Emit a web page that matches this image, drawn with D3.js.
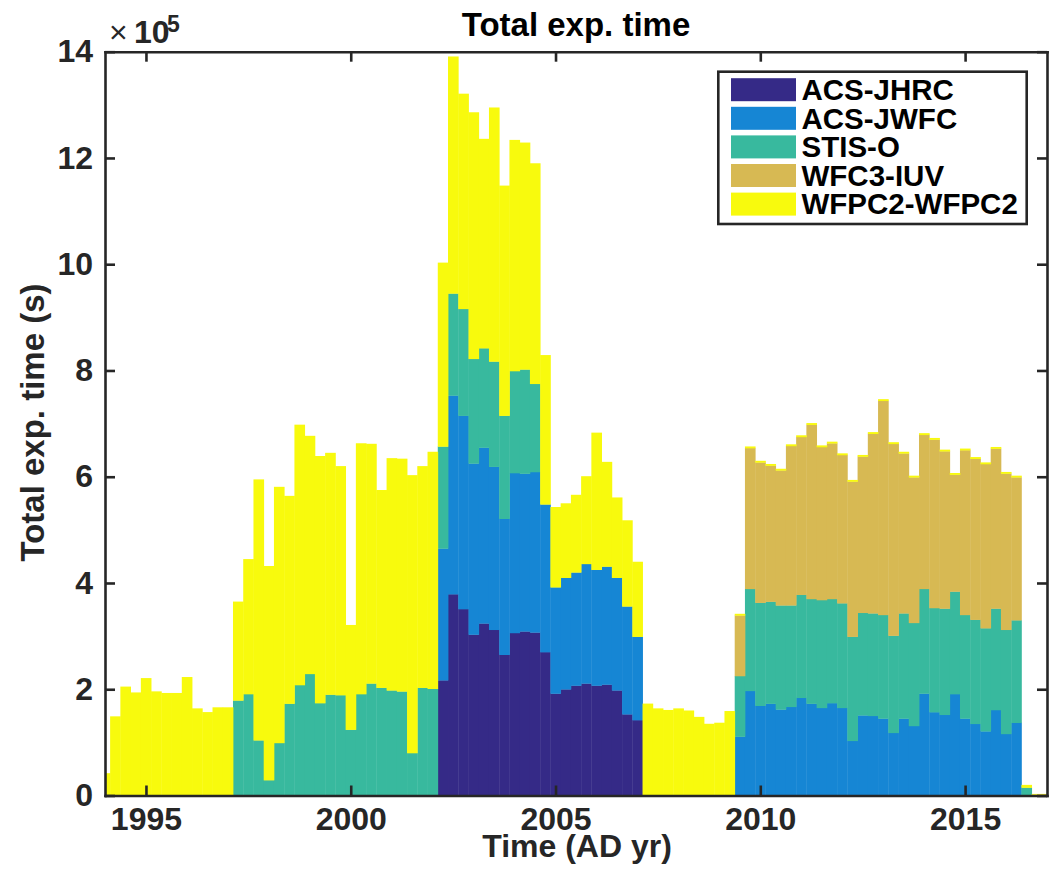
<!doctype html>
<html lang="en-US">

<head>
    <meta charset="UTF-8">
    <title>Total exp. time</title>
    <script src="https://d3js.org/d3.v7.min.js" charset="utf-8"></script>
    <style>
        body { margin: 0; background: #ffffff; }
        #cvas { display: block; font-family: "Liberation Sans", Arial, Helvetica, sans-serif; }
        .axis path, .axis line { stroke: #262626; stroke-width: 2.6; }
        .axis text { fill: #262626; font-size: 32px; font-weight: bold; font-family: "Liberation Sans", Arial, sans-serif; }
    </style>
</head>

<body>
    <svg id="cvas" width="1049" height="874"></svg>
    <script>

        // ---- data (quarterly bins, values in units of 1e5 s) ---- //

        const FIRST_BIN = 1994.0;   // centre of the first quarter bin
        const BIN_WIDTH = 0.25;     // years

        const series_names = ["ACS-JHRC", "ACS-JWFC", "STIS-O", "WFC3-IUV", "WFPC2-WFPC2"];
        const series_colors = ["#352a87", "#1686d4", "#38b99e", "#d7b953", "#f8fa0d"];

        const acs_jhrc = [
            0, 0, 0, 0, 0, 0, 0, 0, 0, 0,
            0, 0, 0, 0, 0, 0, 0, 0, 0, 0,
            0, 0, 0, 0, 0, 0, 0, 0, 0, 0,
            0, 0, 0, 2.17, 3.79, 3.51, 3.03, 3.24, 3.12, 2.65,
            3.06, 3.09, 3.07, 2.70, 1.92, 2.00, 2.07, 2.11, 2.07, 2.09,
            1.98, 1.53, 1.42, 0, 0, 0, 0, 0, 0, 0,
            0, 0, 0, 0, 0, 0, 0, 0, 0, 0,
            0, 0, 0, 0, 0, 0, 0, 0, 0, 0,
            0, 0, 0, 0, 0, 0, 0, 0, 0, 0,
            0, 0, 0
        ];
        const acs_jwfc = [
            0, 0, 0, 0, 0, 0, 0, 0, 0, 0,
            0, 0, 0, 0, 0, 0, 0, 0, 0, 0,
            0, 0, 0, 0, 0, 0, 0, 0, 0, 0,
            0, 0, 0, 2.48, 3.74, 3.64, 3.22, 3.31, 3.07, 2.56,
            3.01, 2.97, 3.02, 2.78, 2.00, 2.10, 2.13, 2.25, 2.18, 2.22,
            2.12, 2.03, 1.57, 0, 0, 0, 0, 0, 0, 0,
            0, 0, 1.11, 1.97, 1.69, 1.73, 1.62, 1.67, 1.84, 1.73,
            1.65, 1.74, 1.65, 1.03, 1.51, 1.50, 1.45, 1.18, 1.45, 1.31,
            1.92, 1.57, 1.52, 1.91, 1.45, 1.35, 1.21, 1.61, 1.16, 1.37,
            0, 0, 0
        ];
        const stis_o = [
            0, 0, 0, 0, 0, 0, 0, 0, 0, 0,
            0, 0, 0, 1.79, 1.91, 1.04, 0.29, 0.99, 1.73, 2.08,
            2.29, 1.74, 1.90, 1.89, 1.24, 1.91, 2.11, 2.03, 1.98, 1.96,
            0.80, 2.03, 2.01, 1.92, 1.92, 2.01, 1.97, 1.87, 1.98, 1.94,
            1.92, 1.96, 1.66, 0, 0, 0, 0, 0, 0, 0,
            0, 0, 0, 0, 0, 0, 0, 0, 0, 0,
            0, 0, 1.14, 1.92, 1.94, 1.92, 1.96, 1.91, 1.94, 1.97,
            2.03, 1.96, 1.97, 1.96, 1.93, 1.93, 1.95, 1.83, 1.98, 1.94,
            1.97, 1.96, 2.00, 1.93, 1.95, 1.96, 1.94, 1.91, 1.96, 1.93,
            0.15, 0, 0
        ];
        const wfc3_iuv = [
            0, 0, 0, 0, 0, 0, 0, 0, 0, 0,
            0, 0, 0, 0, 0, 0, 0, 0, 0, 0,
            0, 0, 0, 0, 0, 0, 0, 0, 0, 0,
            0, 0, 0, 0, 0, 0, 0, 0, 0, 0,
            0, 0, 0, 0, 0, 0, 0, 0, 0, 0,
            0, 0, 0, 0, 0, 0, 0, 0, 0, 0,
            0, 0, 1.14, 2.65, 2.64, 2.56, 2.54, 3.00, 2.97, 3.28,
            2.88, 2.93, 2.79, 2.92, 2.94, 3.38, 4.03, 3.61, 3.01, 2.74,
            2.90, 3.17, 2.96, 2.20, 3.10, 3.03, 3.09, 3.01, 2.94, 2.69,
            0, 0.02, 0.02
        ];
        const wfpc2 = [
            0.42, 1.49, 2.05, 1.94, 2.21, 1.96, 1.93, 1.93, 2.23, 1.64,
            1.57, 1.66, 1.66, 1.86, 2.54, 4.91, 4.03, 4.82, 3.91, 4.90,
            4.48, 4.65, 4.55, 4.31, 1.97, 4.72, 4.51, 3.72, 4.37, 4.38,
            5.23, 4.17, 4.46, 3.46, 4.46, 4.05, 4.64, 3.94, 4.78, 4.33,
            4.35, 4.27, 4.15, 2.81, 1.51, 1.40, 1.46, 1.65, 2.58, 1.97,
            1.51, 1.62, 1.41, 1.73, 1.64, 1.61, 1.64, 1.60, 1.48, 1.35,
            1.37, 1.59, 0.03, 0.03, 0.03, 0.03, 0.03, 0.03, 0.03, 0.03,
            0.03, 0.03, 0.03, 0.03, 0.03, 0.03, 0.03, 0.03, 0.03, 0.03,
            0.03, 0.03, 0.03, 0.03, 0.03, 0.03, 0.03, 0.03, 0.03, 0.03,
            0.05, 0.01, 0.01
        ];

        const x_ticks = [1995, 2000, 2005, 2010, 2015];
        const y_ticks = [0, 2, 4, 6, 8, 10, 12, 14];

        // ---- layout ---- //

        const plot_left = 105;
        const plot_right = 1047;
        const plot_top = 51.7;
        const plot_bottom = 795.5;

        const svg = d3.select("#cvas");

        const x_scale = d3.scaleLinear().domain([1994, 2017]).range([plot_left, plot_right]);
        const y_scale = d3.scaleLinear().domain([0, 14]).range([plot_bottom, plot_top]);

        // build table for the stack
        const all_series = [acs_jhrc, acs_jwfc, stis_o, wfc3_iuv, wfpc2];
        const table = acs_jhrc.map((d, i) => {
            let row = { year: FIRST_BIN + i * BIN_WIDTH };
            series_names.forEach((name, j) => { row[name] = all_series[j][i]; });
            return row;
        });

        const stacked = d3.stack().keys(series_names)(table);

        svg.append("clipPath").attr("id", "plot_clip")
            .append("rect")
            .attr("x", plot_left).attr("y", plot_top)
            .attr("width", plot_right - plot_left).attr("height", plot_bottom - plot_top);

        const bars = svg.append("g").attr("clip-path", "url(#plot_clip)");

        bars.selectAll(".layer").data(stacked)
            .enter().append("g").attr("class", "layer")
            .style("fill", (d, i) => series_colors[i])
            .selectAll("rect").data(d => d.filter(p => p[1] - p[0] > 0))
            .enter().append("rect")
            .attr("x", d => x_scale(d.data.year - BIN_WIDTH / 2))
            .attr("width", d => x_scale(d.data.year + BIN_WIDTH / 2) - x_scale(d.data.year - BIN_WIDTH / 2) + 0.4)
            .attr("y", d => y_scale(d[1]))
            .attr("height", d => y_scale(d[0]) - y_scale(d[1]) + 0.3);

        // ---- axes (box with inward ticks) ---- //

        svg.append("g").attr("class", "axis")
            .attr("transform", `translate(0,${plot_bottom})`)
            .call(d3.axisBottom(x_scale).tickValues(x_ticks).tickFormat(d3.format("d"))
                .tickSizeInner(-10).tickSizeOuter(0).tickPadding(12));

        svg.append("g").attr("class", "axis")
            .attr("transform", `translate(0,${plot_top})`)
            .call(d3.axisTop(x_scale).tickValues(x_ticks).tickFormat("")
                .tickSizeInner(-10).tickSizeOuter(0));

        svg.append("g").attr("class", "axis")
            .attr("transform", `translate(${plot_left},0)`)
            .call(d3.axisLeft(y_scale).tickValues(y_ticks).tickFormat(d3.format("d"))
                .tickSizeInner(-10).tickSizeOuter(0).tickPadding(12));

        svg.append("g").attr("class", "axis")
            .attr("transform", `translate(${plot_right},0)`)
            .call(d3.axisRight(y_scale).tickValues(y_ticks).tickFormat("")
                .tickSizeInner(-10).tickSizeOuter(0));

        svg.selectAll(".axis path.domain").attr("stroke-linecap", "square");

        // exponent label
        const expo = svg.append("text")
            .attr("y", 43.3)
            .style("fill", "#262626")
            .style("font-size", "32px");
        expo.append("tspan").attr("x", 109).text("×");
        expo.append("tspan").attr("x", 134).style("font-weight", "bold").text("10");
        expo.append("tspan").attr("x", 167).attr("y", 31.5)
            .style("font-weight", "bold").style("font-size", "23px").text("5");

        // ---- titles ---- //

        svg.append("text")
            .attr("x", (plot_left + plot_right) / 2).attr("y", 36)
            .attr("text-anchor", "middle")
            .style("font-size", "33px").style("font-weight", "bold").style("fill", "#000")
            .text("Total exp. time");

        svg.append("text")
            .attr("x", 577).attr("y", 856.5)
            .attr("text-anchor", "middle")
            .style("font-size", "32px").style("font-weight", "bold").style("fill", "#262626")
            .text("Time (AD yr)");

        svg.append("text")
            .attr("transform", "translate(43.5,422.5) rotate(-90)")
            .attr("text-anchor", "middle")
            .style("font-size", "33px").style("font-weight", "bold").style("fill", "#262626")
            .text("Total exp. time (s)");

        // ---- legend ---- //

        const legend = svg.append("g");
        legend.append("rect")
            .attr("x", 718.3).attr("y", 71.7)
            .attr("width", 308.4).attr("height", 152.3)
            .style("fill", "#ffffff").style("stroke", "#262626").style("stroke-width", 2.6);

        const legend_rows = legend.selectAll(".legend_row").data(series_names)
            .enter().append("g").attr("class", "legend_row")
            .attr("transform", (d, i) => `translate(0,${89.7 + i * 28.6})`);

        legend_rows.append("rect")
            .attr("x", 731).attr("y", -11.5)
            .attr("width", 65).attr("height", 23)
            .style("fill", (d, i) => series_colors[i]);

        legend_rows.append("text")
            .attr("x", 801.5).attr("y", 10.3)
            .style("font-size", "29.5px").style("font-weight", "bold").style("fill", "#000")
            .text(d => d);

    </script>
</body>

</html>
